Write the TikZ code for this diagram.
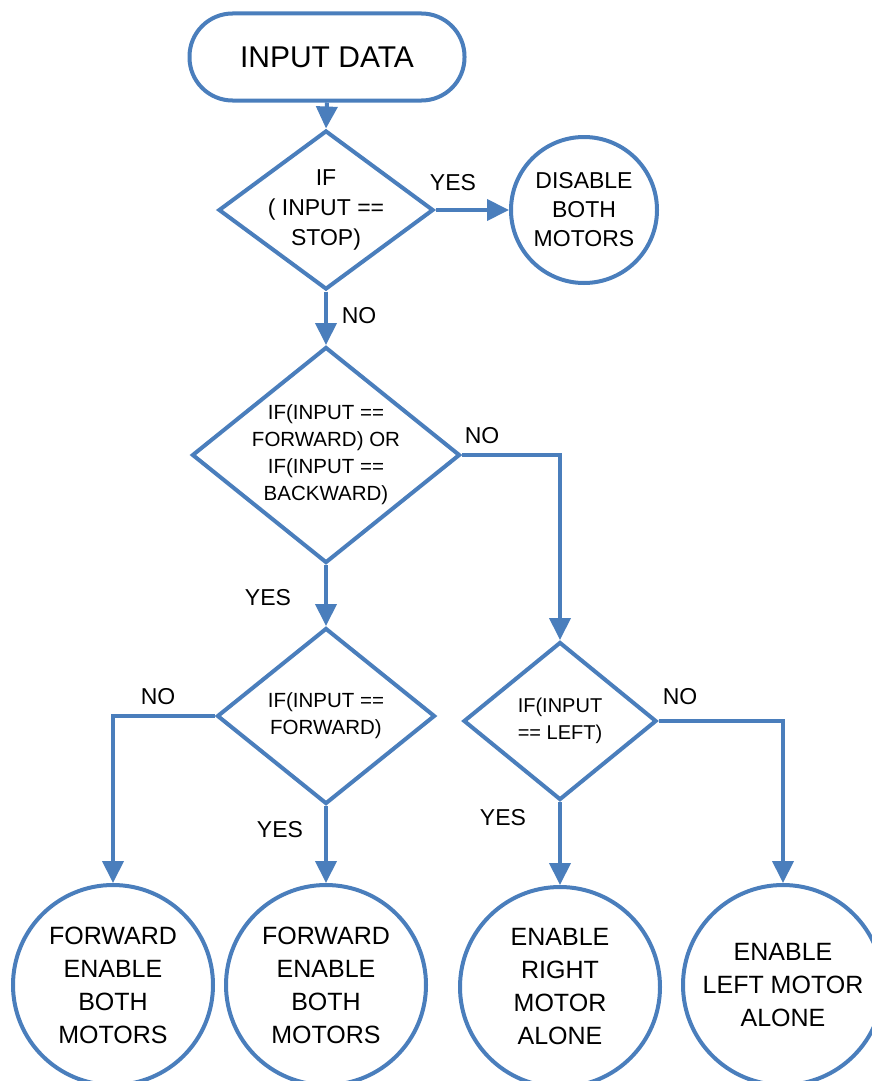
\documentclass[tikz,border=0pt]{standalone}
\usepackage{fontspec}
\setmainfont{Liberation Sans}
\usetikzlibrary{shapes.geometric,arrows.meta}
\definecolor{flowblue}{RGB}{74,126,188}
\begin{document}
\begin{tikzpicture}[x=1pt,y=-1pt,
  base/.style={draw=flowblue,line width=4pt,fill=white,inner sep=0pt,align=center,text=black},
  term/.style={base,rectangle,rounded corners=43pt,minimum width=275pt,minimum height=87pt,font=\fontsize{30}{34}\selectfont},
  dia/.style={base,diamond},
  endc/.style={base,circle,minimum size=200pt,font=\fontsize{25}{33}\selectfont},
  dtext/.style={align=center,text=black,inner sep=0pt},
  lbl/.style={text=black,inner sep=0pt,font=\fontsize{23}{26}\selectfont},
  flow/.style={draw=flowblue,line width=4pt,-{Triangle[length=22pt,width=21pt]}}
]
\useasboundingbox (0,0) rectangle (871,1081);

\node[term] (start) at (327,57) {INPUT DATA};
\node[dia,minimum width=215pt,minimum height=159pt,
  label={[dtext,font=\fontsize{23}{30}\selectfont]center:{IF\\( INPUT ==\\STOP)}}] (d1) at (326,210) {};
\node[base,circle,minimum size=146pt,font=\fontsize{23}{29}\selectfont] (c0) at (584,210) {DISABLE\\BOTH\\MOTORS};

\node[dia,minimum width=268pt,minimum height=216pt,
  label={[dtext,font=\fontsize{20.5}{27}\selectfont]center:{IF(INPUT ==\\FORWARD) OR\\IF(INPUT ==\\BACKWARD)}}] (d2) at (326,455) {};

\node[dia,minimum width=218pt,minimum height=176pt,
  label={[dtext,font=\fontsize{20.5}{27}\selectfont]center:{IF(INPUT ==\\FORWARD)}}] (d3) at (326,716) {};

\node[dia,minimum width=193pt,minimum height=158pt,
  label={[dtext,font=\fontsize{20}{27}\selectfont]center:{IF(INPUT\\== LEFT)}}] (d4) at (560,721) {};

\node[endc] (b1) at (113,985) {FORWARD\\ENABLE\\BOTH\\MOTORS};
\node[endc] (b2) at (326,985) {FORWARD\\ENABLE\\BOTH\\MOTORS};
\node[endc] (b3) at (560,987) {ENABLE\\RIGHT\\MOTOR\\ALONE};
\node[endc] (b4) at (783,985) {ENABLE\\LEFT MOTOR\\ALONE};

\draw[flow] (start.south) -- (d1.north);
\draw[flow] (d1.east) -- (c0.west);
\draw[flow] (d1.south) -- (d2.north);
\draw[flow] (d2.east) -| (d4.north);
\draw[flow] (d2.south) -- (d3.north);
\draw[flow] (d3.west) -| (b1.north);
\draw[flow] (d3.south) -- (b2.north);
\draw[flow] (d4.south) -- (b3.north);
\draw[flow] (d4.east) -| (b4.north);

\node[lbl] (l1) at (453,183) {YES};
\node[lbl] (l2) at (359,316) {NO};
\node[lbl] (l3) at (482,436) {NO};
\node[lbl] (l4) at (268,598) {YES};
\node[lbl] (l5) at (158,697) {NO};
\node[lbl] (l6) at (280,830) {YES};
\node[lbl] (l7) at (680,697) {NO};
\node[lbl] (l8) at (503,818) {YES};
\end{tikzpicture}
\end{document}
